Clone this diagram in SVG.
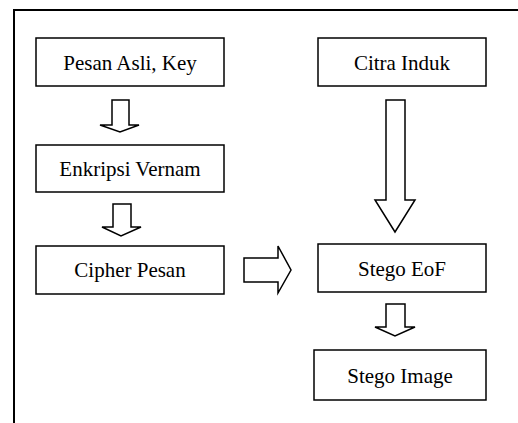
<svg xmlns="http://www.w3.org/2000/svg" width="518" height="423" viewBox="0 0 518 423">
  <style>
    .box { fill: #fff; stroke: #000; stroke-width: 1.5; }
    .frame { fill: none; stroke: #000; stroke-width: 2; }
    .arrow { fill: #fff; stroke: #000; stroke-width: 1.5; stroke-linejoin: miter; }
    text { font-family: "Liberation Serif", "Times New Roman", serif; font-size: 21px; text-anchor: middle; fill: #000; }
  </style>
  <rect width="518" height="423" fill="#fff"/>
  <!-- page frame (top and left edges) -->
  <path class="frame" d="M14,423 V10 H518"/>

  <g id="pesan-asli">
    <rect class="box" x="36" y="38" width="188" height="48"/>
    <text x="130" y="70">Pesan Asli, Key</text>
  </g>
  <g id="enkripsi-vernam">
    <rect class="box" x="36" y="145" width="188" height="47"/>
    <text x="130" y="176">Enkripsi Vernam</text>
  </g>
  <g id="cipher-pesan">
    <rect class="box" x="36" y="246" width="188" height="48"/>
    <text x="130" y="277">Cipher Pesan</text>
  </g>
  <g id="citra-induk">
    <rect class="box" x="318" y="38" width="168" height="48"/>
    <text x="402" y="70">Citra Induk</text>
  </g>
  <g id="stego-eof">
    <rect class="box" x="318" y="244" width="168" height="48"/>
    <text x="402" y="276">Stego EoF</text>
  </g>
  <g id="stego-image">
    <rect class="box" x="314" y="350" width="172" height="50"/>
    <text x="400" y="383">Stego Image</text>
  </g>

  <g id="connectors">
    <!-- Pesan Asli -> Enkripsi Vernam -->
    <path class="arrow" d="M112,100 H129 V125 H139 L120,132 L100,125 H112 Z"/>
    <!-- Enkripsi Vernam -> Cipher Pesan -->
    <path class="arrow" d="M113,204 H131 V227 H141 L121,236 L102,227 H113 Z"/>
    <!-- Cipher Pesan -> Stego EoF -->
    <path class="arrow" d="M244,258 H278 V246 L291,270 L278,293 V282 H244 Z"/>
    <!-- Citra Induk -> Stego EoF -->
    <path class="arrow" d="M386,100 H405 V200 H415 L395,232 L375,200 H386 Z"/>
    <!-- Stego EoF -> Stego Image -->
    <path class="arrow" d="M386,304 H405 V327 H415 L395,336 L375,327 H386 Z"/>
  </g>
</svg>
